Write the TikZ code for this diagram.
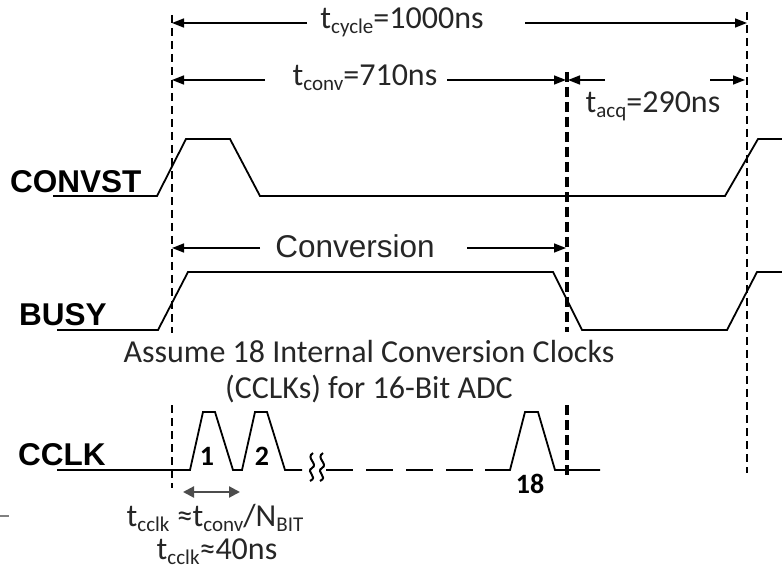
\documentclass[tikz,border=0pt]{standalone}
\usepackage{fontspec}
\setmainfont{Carlito}
\newfontfamily\arialf{Liberation Sans}
\usetikzlibrary{arrows.meta}
\newcommand\sbs[1]{\raisebox{-0.35ex}{\fontsize{21}{21}\selectfont #1}}
\begin{document}
\begin{tikzpicture}[x=1pt,y=-1pt,
 sig/.style={line width=1.8pt, line join=miter},
 guide/.style={line width=1.3pt, dash pattern=on 8pt off 5pt},
 guideb/.style={line width=3.2pt, dash pattern=on 10pt off 5pt},
 dim/.style={line width=1.6pt, -{Triangle[length=12pt,width=9pt]}},
 lab/.style={font=\fontsize{32}{36}\selectfont, inner sep=0pt, text=black!85},
 siglab/.style={font=\arialf\bfseries\fontsize{31.5}{35}\selectfont, inner sep=0pt, anchor=base west},
 num/.style={font=\bfseries\fontsize{28}{32}\selectfont, inner sep=0pt},
 ]
\useasboundingbox (0,0) rectangle (782,569);

% guide lines
\coordinate (A1) at (172,15);  \coordinate (A2) at (172,333);
\coordinate (A3) at (172,405); \coordinate (A4) at (172,488);
\coordinate (B1) at (567,72);  \coordinate (B2) at (567,332);
\coordinate (B3) at (567,405); \coordinate (B4) at (567,477);
\coordinate (C1) at (747,12);  \coordinate (C2) at (747,473);
\draw[guide] (A1) -- (A2);
\draw[guide] (A3) -- (A4);
\draw[guideb] (B1) -- (B2);
\draw[guideb] (B3) -- (B4);
\draw[guide] (C1) -- (C2);

% signal labels
\node[siglab] (lconv) at (10,193) {CONVST};
\node[siglab] (lbusy) at (19,326) {BUSY};
\node[siglab] (lcclk) at (18,465) {CCLK};

% CONVST
\draw[sig] (53,196) -- (157,196) -- (186,139) -- (230,139) -- (260,196) -- (725,196) -- (758,139) -- (782,139);
% BUSY
\draw[sig] (57,330) -- (158,330) -- (188,272) -- (553,272) -- (582,330) -- (727,330) -- (757,272) -- (782,272);
% CCLK
\draw[sig] (57,470) -- (190,470) -- (203,412) -- (215,412) -- (233,470) -- (242,470) -- (255,412) -- (267,412) -- (285,470) -- (302,470);
\draw[line width=2pt] (313,453) .. controls (305,458) and (319,464) .. (312,468) .. controls (305,472) and (319,477) .. (310,481);
\draw[line width=2pt] (323,453) .. controls (315,458) and (329,464) .. (322,468) .. controls (315,472) and (329,477) .. (320,481);
\draw[sig, dash pattern=on 27pt off 13pt] (326,470) -- (485,470);
\draw[sig] (485,470) -- (510,470) -- (525,412) -- (538,412) -- (555,470) -- (600,470);

\node[num] (n1) at (207,456) {1};
\node[num] (n2) at (262,456) {2};
\node[num] (n18) at (530,484) {18};

% dimension labels
\node[lab] (tcyc) at (402,22) {t\sbs{cycle}=1000ns};
\node[lab] (tconv) at (365,78) {t\sbs{conv}=710ns};
\node[lab] (tacq) at (653,106) {t\sbs{acq}=290ns};
\node[lab, font=\arialf\fontsize{31.5}{35}\selectfont] (conv) at (355,246) {Conversion};

\coordinate (c1) at (307,23);  \coordinate (c1e) at (172,23);
\coordinate (c2) at (525,23);  \coordinate (c2e) at (747,23);
\coordinate (v1) at (265,80);  \coordinate (v1e) at (172,80);
\coordinate (v2) at (447,80);  \coordinate (v2e) at (566,80);
\coordinate (q1) at (605,80);  \coordinate (q1e) at (568,80);
\coordinate (q2) at (710,80);  \coordinate (q2e) at (745,80);
\coordinate (k1) at (260,248); \coordinate (k1e) at (172,248);
\coordinate (k2) at (467,248); \coordinate (k2e) at (566,248);
\draw[dim] (c1) -- (c1e);
\draw[dim] (c2) -- (c2e);
\draw[dim] (v1) -- (v1e);
\draw[dim] (v2) -- (v2e);
\draw[dim] (q1) -- (q1e);
\draw[dim] (q2) -- (q2e);
\draw[dim] (k1) -- (k1e);
\draw[dim] (k2) -- (k2e);

% notes
\node[lab] (as1) at (369,352) {Assume 18 Internal Conversion Clocks};
\node[lab] (as2) at (369,389) {(CCLKs) for 16-Bit ADC};

\coordinate (d1) at (183,492); \coordinate (d2) at (240,492);
\draw[line width=2.2pt, draw=black!70, {Triangle[length=11pt,width=11pt]}-{Triangle[length=11pt,width=11pt]}] (d1) -- (d2);
\node[lab] (f1) at (215,518) {t\sbs{cclk} ≈t\sbs{conv}/N\sbs{BIT}};
\node[lab] (f2) at (217,552) {t\sbs{cclk}≈40ns};

\coordinate (m1) at (0,516); \coordinate (m2) at (9,516);
\draw[line width=1.2pt, black!50] (m1) -- (m2);
\end{tikzpicture}
\end{document}
